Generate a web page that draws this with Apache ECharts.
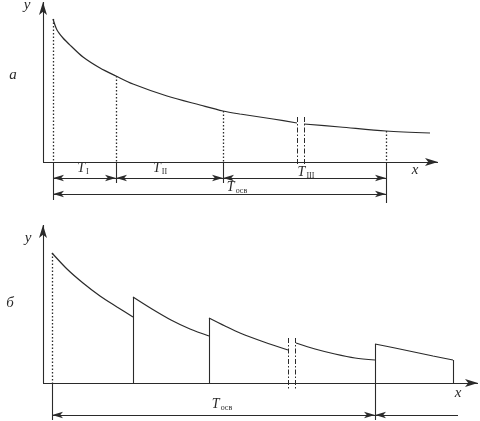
<!DOCTYPE html>
<html><head><meta charset="utf-8">
<script src="https://cdn.jsdelivr.net/npm/echarts/dist/echarts.min.js"></script>
<style>html,body{margin:0;padding:0;background:#fff}#c{width:480px;height:421px}</style>
</head><body><div id="c"></div>
<script>
// ---------- Panel a: continuous decay curve ----------
const curveA1 = [[10,143],[14,132],[20,124],[28,116],[40,105],[57,94],[73,86],[90,78],[124,66],[157,57],[180,51],[197,48],[230,43],[254,39]];
const curveA2 = [[261,38],[297,35],[343,31],[387,29]];
const boundsA = [10, 73, 180, 343];          // period boundaries (x)
const boundsATop = [143, 86, 51, 31];        // curve value at each boundary
const breakA = [254, 261];
const periodNamesA = ['I', 'II', 'III'];
// ---------- Panel b: saw-tooth decay with restorations ----------
const curveB1 = [[9,130],[24,114],[40,100],[57,87],[74,76],[90,66]];
const curveB2 = [[90,86],[109,74],[128,63],[147,54],[166,47]];
const curveB3a = [[166,65],[182,57],[197,50],[221,41],[245,33]];
const curveB3b = [[253,40],[272,34],[292,29],[312,25],[332,23]];
const curveB4 = [[332,39],[352,35],[371,31],[390,27],[410,23]];
const breakB = [245, 252];
const cycleB = [9, 332];
const subOsv = 'осв';

const INK = '#2a2a2a';
const solid = {color: INK, width: 1.1, type: 'solid'};
const dotted = {color: INK, width: 1.3, type: [1.5, 2]};
const dashdot = {color: INK, width: 1, type: [5, 2, 1.5, 2]};

function seg(x1, y1, x2, y2, style, s1, s2, size) {
  const a = {coord: [x1, y1], symbol: s1 || 'none', lineStyle: style};
  const b = {coord: [x2, y2], symbol: s2 || 'none'};
  if (size) { a.symbolSize = size; b.symbolSize = size; }
  return [a, b];
}
const serif = 'Liberation Serif, DejaVu Serif, serif';
const richAll = {
  t: {fontFamily: serif, fontStyle: 'italic', fontSize: 14, color: INK},
  s: {fontFamily: serif, fontSize: 8, color: INK, verticalAlign: 'bottom', padding: [7, 0, 0, 1]},
  i: {fontFamily: serif, fontStyle: 'italic', fontSize: 15, color: INK}
};
function tl(x, y, sub) { return {coord: [x, y], label: {formatter: '{t|T}{s|' + sub + '}'}}; }
function il(x, y, txt) { return {coord: [x, y], label: {formatter: '{i|' + txt + '}'}}; }

// marks for panel a
const linesA = [];
linesA.push(seg(0, 0, 0, 160, solid, 'none', 'arrow', [6, 13]));
linesA.push(seg(0, 0, 395, 0, solid, 'none', 'arrow', [6, 13]));
boundsA.forEach((b, i) => linesA.push(seg(b, boundsATop[i], b, 0, dotted)));
const extA = [-38, -21, -21, -41];
boundsA.forEach((b, i) => linesA.push(seg(b, 0, b, extA[i], solid)));
breakA.forEach(b => linesA.push(seg(b, 45, b, -3, dashdot)));
for (let i = 0; i < boundsA.length - 1; i++) linesA.push(seg(boundsA[i], -16, boundsA[i + 1], -16, solid, 'arrow', 'arrow'));
linesA.push(seg(boundsA[0], -32, boundsA[3], -32, solid, 'arrow', 'arrow'));
linesA.push(seg(404, -32, boundsA[3], -32, solid, 'none', 'arrow'));
const labelsA = [
  tl(40, -6, periodNamesA[0]), tl(117, -6, periodNamesA[1]), tl(263, -10, periodNamesA[2]), tl(194, -25, subOsv),
  il(-16, 157, 'y'), il(372, -8, 'x'), il(-30, 87, 'a')
];

// marks for panel b
const lastB = curveB4[curveB4.length - 1];
const linesB = [];
linesB.push(seg(0, 0, 0, 158, solid, 'none', 'arrow', [6, 13]));
linesB.push(seg(0, 0, 435, 0, solid, 'none', 'arrow', [6, 13]));
linesB.push(seg(cycleB[0], curveB1[0][1], cycleB[0], 0, dotted));
linesB.push(seg(cycleB[0], 0, cycleB[0], -37, solid));
linesB.push(seg(curveB2[0][0], 0, curveB2[0][0], curveB2[0][1], solid));
linesB.push(seg(curveB3a[0][0], 0, curveB3a[0][0], curveB3a[0][1], solid));
linesB.push(seg(curveB4[0][0], -37, curveB4[0][0], curveB4[0][1], solid));
linesB.push(seg(lastB[0], 0, lastB[0], lastB[1], solid));
breakB.forEach(b => linesB.push(seg(b, 45, b, -7, dashdot)));
linesB.push(seg(cycleB[0], -32, cycleB[1], -32, solid, 'arrow', 'arrow'));
linesB.push(seg(415, -32, cycleB[1], -32, solid, 'none', 'arrow'));
const labelsB = [tl(179, -21, subOsv), il(-15, 145, 'y'), il(415, -10, 'x'), il(-33, 80, 'б')];

function axis(gi, min, max) {
  return {gridIndex: gi, type: 'value', min: min, max: max,
    axisLine: {show: false}, axisTick: {show: false}, axisLabel: {show: false}, splitLine: {show: false}};
}
function curve(gi, data, extra) {
  return Object.assign({type: 'line', xAxisIndex: gi, yAxisIndex: gi, data: data, smooth: 0.3, symbol: 'none',
    clip: false, silent: true, lineStyle: {color: INK, width: 1.2}}, extra || {});
}
function marks(lines, labels) {
  return {
    markLine: {silent: true, symbolSize: [5, 11], label: {show: false}, lineStyle: solid, data: lines, animation: false},
    markPoint: {silent: true, symbol: 'circle', symbolSize: 0, label: {show: true, position: 'inside', rich: richAll}, data: labels, animation: false}
  };
}

const chart = echarts.init(document.getElementById('c'), null, {renderer: 'canvas'});
chart.setOption({
  animation: false,
  backgroundColor: '#fff',
  grid: [
    {left: 0, top: 2, width: 438, height: 205, outerBoundsMode: 'none', containLabel: false},
    {left: 0, top: 225, width: 478, height: 196, outerBoundsMode: 'none', containLabel: false}
  ],
  xAxis: [axis(0, -43, 395), axis(1, -43, 435)],
  yAxis: [axis(0, -45, 160), axis(1, -38, 158)],
  series: [
    curve(0, curveA1, marks(linesA, labelsA)),
    curve(0, curveA2),
    curve(1, curveB1, marks(linesB, labelsB)),
    curve(1, curveB2),
    curve(1, curveB3a),
    curve(1, curveB3b),
    curve(1, curveB4)
  ]
});
</script></body></html>
